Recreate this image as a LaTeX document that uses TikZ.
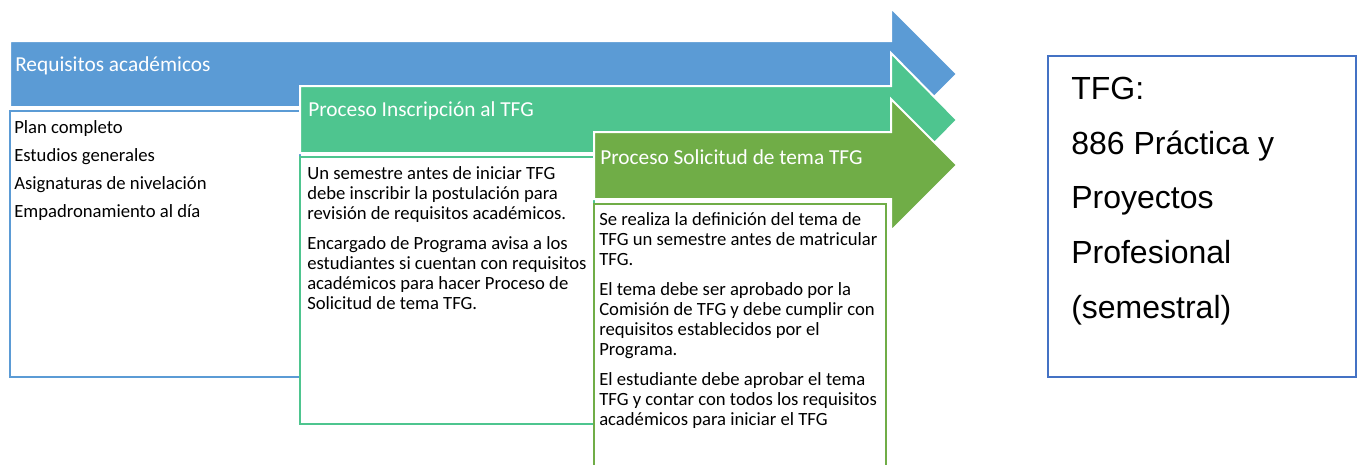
\documentclass[tikz,border=0pt]{standalone}
\usepackage{fontspec}
\setmainfont{Carlito}
\newfontfamily\arialfont{Liberation Sans}
\usetikzlibrary{positioning}
\definecolor{reqblue}{HTML}{5B9BD5}
\definecolor{insgreen}{HTML}{4EC58F}
\definecolor{solgreen}{HTML}{70AD47}
\definecolor{tfgblue}{HTML}{4472C4}
\tikzset{bigarrow/.style = {draw=white, line width=1.5pt, line join=miter}}
\tikzset{stagebox/.style = {fill=white, line width=1.5pt}}
\tikzset{headtext/.style = {anchor=west, text=white, inner sep=0, font=\fontsize{16}{19}\selectfont}}
\tikzset{bodytext/.style = {anchor=north west, align=left, inner sep=0, font=\fontsize{14}{15}\selectfont}}

\begin{document}
\begin{tikzpicture}[x=0.75pt, y=-0.75pt]
        \useasboundingbox (0,0) rectangle (1362,464);
        % Requisitos
        \filldraw [bigarrow, fill=reqblue] (10,41) -- (891,41) -- (891,8) -- (957,74) -- (891,140) -- (891,107) -- (10,107) -- cycle;
        \filldraw [stagebox, draw=reqblue] (10,111) rectangle (300,377);
        \node [headtext] (reqhead) at (15,66) {Requisitos académicos};
        \node [bodytext] (reqlist) at (14,120) {Plan completo\\[6pt]
            Estudios generales\\[6pt]
            Asignaturas de nivelación\\[6pt]
            Empadronamiento al día};
        % Inscripcion
        \filldraw [bigarrow, fill=insgreen] (300,86) -- (891,86) -- (891,53) -- (957,120) -- (891,187) -- (891,153) -- (300,153) -- cycle;
        \filldraw [stagebox, draw=insgreen] (300,157) rectangle (594,424);
        \node [headtext] (inshead) at (308,111) {Proceso Inscripción al TFG};
        \node [bodytext] (instext) at (307,166) {Un semestre antes de iniciar TFG\\
            debe inscribir la postulación para\\
            revisión de requisitos académicos.\\[7.5pt]
            Encargado de Programa avisa a los\\
            estudiantes si cuentan con requisitos\\
            académicos para hacer Proceso de\\
            Solicitud de tema TFG.};
        % Solicitud
        \filldraw [bigarrow, fill=solgreen] (594,132) -- (891,132) -- (891,99) -- (957,165) -- (891,231) -- (891,199) -- (594,199) -- cycle;
        \filldraw [stagebox, draw=solgreen] (594,204) rectangle (886,470);
        \node [headtext] (solhead) at (600,157) {Proceso Solicitud de tema TFG};
        \node [bodytext] (soltext) at (599,212) {Se realiza la definición del tema de\\
            TFG un semestre antes de matricular\\
            TFG.\\[7.5pt]
            El tema debe ser aprobado por la\\
            Comisión de TFG y debe cumplir con\\
            requisitos establecidos por el\\
            Programa.\\[7.5pt]
            El estudiante debe aprobar el tema\\
            TFG y contar con todos los requisitos\\
            académicos para iniciar el TFG};
        % TFG
        \draw [tfgblue, line width=1.5pt] (1048,56) rectangle (1356,377);
        \node [anchor=north west, align=left, inner sep=0, font=\arialfont\fontsize{24}{41}\selectfont] (tfg) at (1071,77) {TFG:\\
            886 Práctica y\\
            Proyectos\\
            Profesional\\
            (semestral)};
    \end{tikzpicture}
\end{document}
